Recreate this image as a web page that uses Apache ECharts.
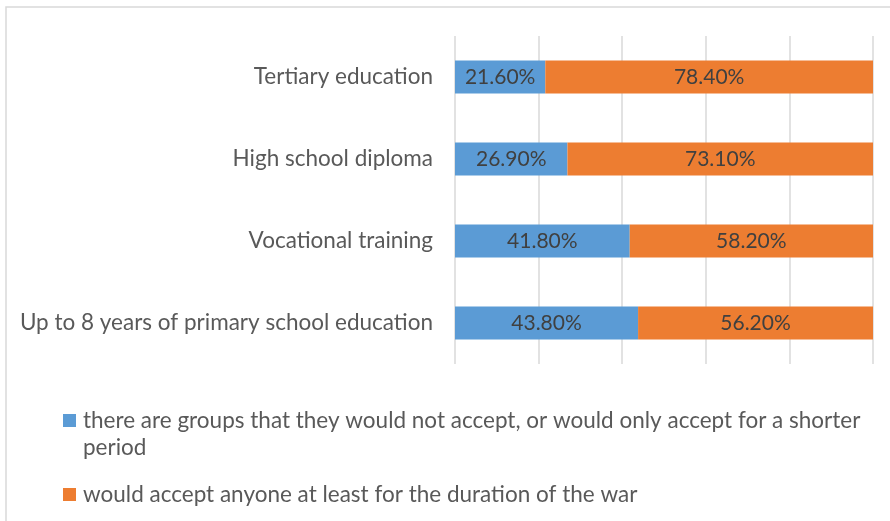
<!DOCTYPE html>
<html>
<head>
<meta charset="utf-8">
<script src="https://cdn.jsdelivr.net/npm/echarts@6/dist/echarts.min.js"></script>
<style>
  html, body { margin: 0; padding: 0; background: #fff; }
  #chart { width: 890px; height: 521px; }
</style>
</head>
<body>
<div id="chart"></div>
<script>
// Education levels, top to bottom
const categories = [
  'Tertiary education',
  'High school diploma',
  'Vocational training',
  'Up to 8 years of primary school education'
];
const seriesNames = [
  'there are groups that they would not accept, or would only accept for a shorter period',
  'would accept anyone at least for the duration of the war'
];
// Legend text of the first series, split where it wraps
const legendLines = [
  'there are groups that they would not accept, or would only accept for a shorter',
  'period'
];
// Shares in percent
const notAccept = [21.6, 26.9, 41.8, 43.8];
const acceptAll = [78.4, 73.1, 58.2, 56.2];

const FONT = 'Lato, "Open Sans", sans-serif';
const TEXT_SIZE = 22.5;

const chart = echarts.init(document.getElementById('chart'), null, { renderer: 'canvas' });

const labelOpt = {
  show: true,
  position: 'inside',
  color: '#404040',
  fontFamily: FONT,
  fontSize: 21,
  formatter: p => p.value.toFixed(2) + '%'
};

chart.setOption({
  animation: false,
  backgroundColor: '#fff',
  graphic: [{
    type: 'rect',
    shape: { x: 6, y: 7, width: 1000, height: 1000 },
    style: { fill: 'none', stroke: '#d9d9d9', lineWidth: 1.5 },
    silent: true,
    z: -10
  }, {
    // wrapped second line of the first legend entry
    type: 'text',
    left: 83,
    top: 436,
    style: {
      text: legendLines[1],
      fill: '#595959',
      font: TEXT_SIZE + 'px ' + FONT,
      textVerticalAlign: 'top'
    },
    silent: true
  }],
  grid: { left: 455, right: 17, top: 36, bottom: 157, containLabel: false },
  xAxis: {
    type: 'value',
    min: 0,
    max: 100,
    interval: 20,
    axisLine: { show: false },
    axisTick: { show: false },
    axisLabel: { show: false },
    splitLine: { show: true, lineStyle: { color: '#d9d9d9', width: 1.5 } }
  },
  yAxis: {
    type: 'category',
    inverse: true,
    data: categories,
    axisLine: { show: false },
    axisTick: { show: false },
    axisLabel: { color: '#595959', fontFamily: FONT, fontSize: TEXT_SIZE, margin: 22 }
  },
  legend: [{
    data: [seriesNames[0]],
    orient: 'vertical',
    left: 63,
    top: 409,
    padding: 0,
    itemWidth: 13,
    itemHeight: 13,
    icon: 'rect',
    formatter: () => legendLines[0],
    textStyle: { color: '#595959', fontFamily: FONT, fontSize: TEXT_SIZE, padding: [0, 0, 0, 2] }
  }, {
    data: [seriesNames[1]],
    orient: 'vertical',
    left: 63,
    top: 483,
    padding: 0,
    itemWidth: 13,
    itemHeight: 13,
    icon: 'rect',
    textStyle: { color: '#595959', fontFamily: FONT, fontSize: TEXT_SIZE, padding: [0, 0, 0, 2] }
  }],
  series: [{
    name: seriesNames[0],
    type: 'bar',
    stack: 'total',
    barWidth: 33,
    data: notAccept,
    itemStyle: { color: '#5b9bd5' },
    label: labelOpt
  }, {
    name: seriesNames[1],
    type: 'bar',
    stack: 'total',
    barWidth: 33,
    data: acceptAll,
    itemStyle: { color: '#ed7d31' },
    label: labelOpt
  }]
});
</script>
</body>
</html>
